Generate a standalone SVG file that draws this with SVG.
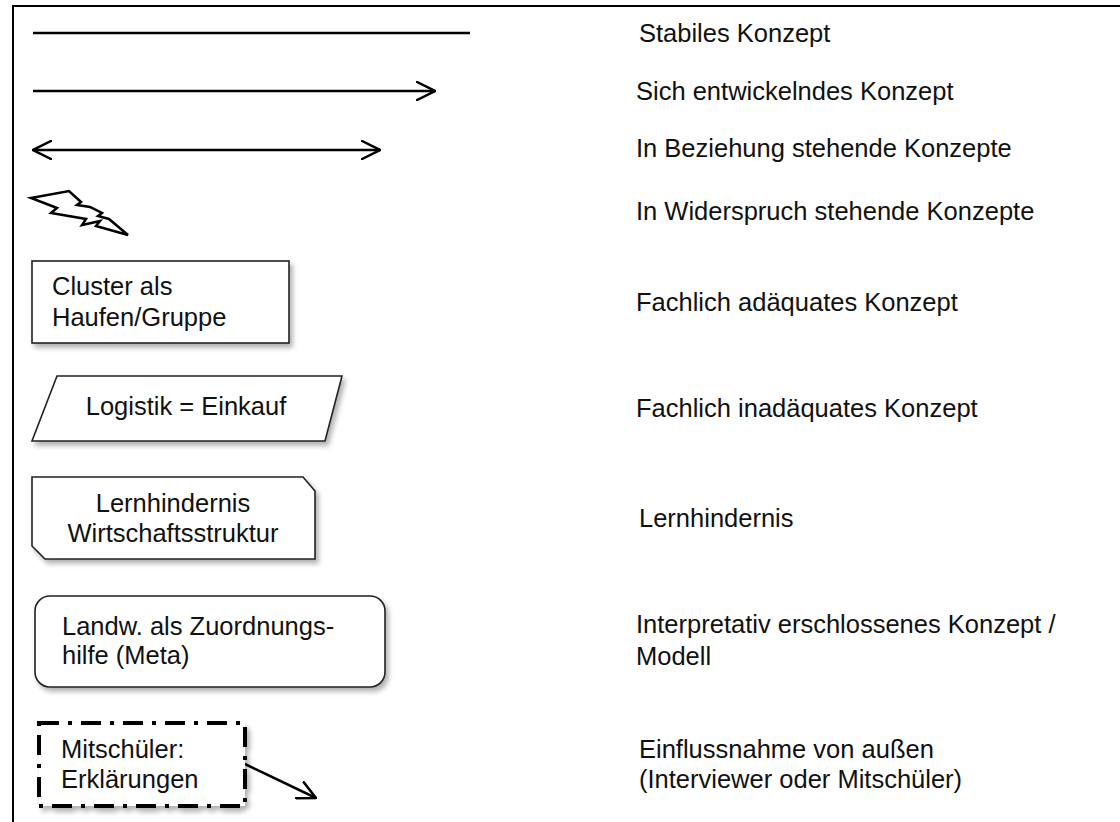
<svg xmlns="http://www.w3.org/2000/svg" width="1120" height="822" viewBox="0 0 1120 822">
  <style>
    text { font-family: "Liberation Sans", Arial, sans-serif; font-size: 25.5px; fill: #111; }
    .conn { stroke: #000; stroke-width: 2.5; fill: none; }
    .box { fill: #fff; stroke: #222; stroke-width: 1.6; }
    .frame { stroke: #000; stroke-width: 2; fill: none; }
  </style>
  <defs>
    <marker id="chev" viewBox="0 0 20 20" refX="19" refY="10" markerWidth="20" markerHeight="20" markerUnits="userSpaceOnUse" orient="auto-start-reverse">
      <path d="M1,1 L19,10 L1,19" fill="none" stroke="#000" stroke-width="2.5" stroke-linecap="round"/>
    </marker>
    <filter id="shadow" x="-10%" y="-10%" width="130%" height="140%">
      <feDropShadow dx="3" dy="4" stdDeviation="2.5" flood-color="#000" flood-opacity="0.3"/>
    </filter>
  </defs>

  <rect width="1120" height="822" fill="#fff"/>
  <path class="frame" d="M13,822 L13,6 L1120,6"/>

  <g id="connectors">
    <line class="conn" x1="33" y1="33" x2="470" y2="33"/>
    <line class="conn" x1="33" y1="91" x2="435" y2="91" marker-end="url(#chev)"/>
    <line class="conn" x1="33" y1="150" x2="380" y2="150" marker-start="url(#chev)" marker-end="url(#chev)"/>
    <polygon class="conn" stroke-width="2.2" stroke-linejoin="miter" points="31,198 69,191 81,202 77,205 90,207 102,213 98,216 109,219 128,235 96,226 100,221 82,225 86,219 51,213 57,208"/>
    <line class="conn" x1="245" y1="764" x2="316" y2="798" marker-end="url(#chev)"/>
  </g>

  <g id="label-stabil"><text x="639" y="42">Stabiles Konzept</text></g>
  <g id="label-entwickelnd"><text x="636" y="100">Sich entwickelndes Konzept</text></g>
  <g id="label-beziehung"><text x="636" y="157">In Beziehung stehende Konzepte</text></g>
  <g id="label-widerspruch"><text x="636" y="220">In Widerspruch stehende Konzepte</text></g>

  <g id="node-cluster">
    <rect class="box" x="32" y="261" width="257" height="82" filter="url(#shadow)"/>
    <text x="52" y="295">Cluster als</text>
    <text x="52" y="326">Haufen/Gruppe</text>
  </g>
  <g id="label-adaequat"><text x="636" y="311">Fachlich adäquates Konzept</text></g>

  <g id="node-logistik">
    <polygon class="box" points="57,376 342,376 325,441 32,441" filter="url(#shadow)"/>
    <text x="186" y="415" text-anchor="middle">Logistik = Einkauf</text>
  </g>
  <g id="label-inadaequat"><text x="636" y="417">Fachlich inadäquates Konzept</text></g>

  <g id="node-lernhindernis">
    <polygon class="box" points="32,477 303,477 315,491 315,559 45,559 32,546" filter="url(#shadow)"/>
    <text x="173" y="512" text-anchor="middle">Lernhindernis</text>
    <text x="173" y="542" text-anchor="middle">Wirtschaftsstruktur</text>
  </g>
  <g id="label-lernhindernis"><text x="639" y="527">Lernhindernis</text></g>

  <g id="node-landw">
    <rect class="box" x="35" y="596" width="350" height="91" rx="15" ry="15" filter="url(#shadow)"/>
    <text x="62" y="635">Landw. als Zuordnungs-</text>
    <text x="62" y="664">hilfe (Meta)</text>
  </g>
  <g id="label-interpretativ">
    <text x="636" y="633">Interpretativ erschlossenes Konzept /</text>
    <text x="636" y="665">Modell</text>
  </g>

  <g id="node-mitschueler">
    <rect x="39" y="723" width="206" height="83" fill="#fff" stroke="#000" stroke-width="4" stroke-dasharray="20 9 4 9" filter="url(#shadow)"/>
    <text x="61" y="758">Mitschüler:</text>
    <text x="61" y="788">Erklärungen</text>
  </g>
  <g id="label-einfluss">
    <text x="639" y="758">Einflussnahme von außen</text>
    <text x="639" y="788">(Interviewer oder Mitschüler)</text>
  </g>
</svg>
